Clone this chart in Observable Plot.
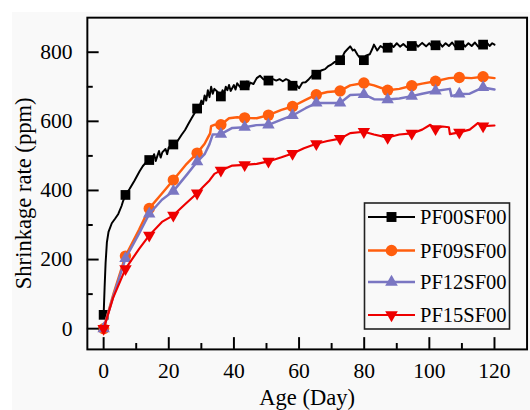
<!DOCTYPE html>
<html><head><meta charset="utf-8">
<script src="https://cdn.jsdelivr.net/npm/d3@7"></script>
<script src="https://cdn.jsdelivr.net/npm/@observablehq/plot@0.6"></script>
<style>
html,body{margin:0;padding:0;background:#ffffff;overflow:hidden;}
#wrap{position:relative;width:530px;height:410px;overflow:hidden;}
#bg{position:absolute;left:12px;top:12px;width:518px;height:398px;background:#f9f9f9;}
#chart{position:absolute;left:0;top:0;}
#legend{position:absolute;left:0;top:0;pointer-events:none;}
</style></head><body><div id="wrap"><div id="bg"></div><div id="chart"></div><svg id="legend" width="530" height="410"></svg></div>
<script>
// ---- data ----
const seriesNames = ["PF00SF00", "PF09SF00", "PF12SF00", "PF15SF00"];
const markerDays = [0, 6.7, 14, 21.4, 28.7, 36, 43.3, 50.6, 58, 65.3, 72.6, 79.9, 87.2, 94.6, 101.9, 109.2, 116.5];
const pf00Markers = [40, 387, 488, 533, 637, 672, 704, 718, 703, 735, 777, 777, 813, 818, 820, 820, 822];
const pf09Markers = [0, 210, 348, 430, 508, 590, 610, 618, 643, 677, 688, 711, 690, 703, 716, 727, 729];
const pf12Markers = [0, 203, 332, 398, 483, 563, 583, 590, 617, 653, 653, 678, 663, 673, 688, 679, 698];
const pf15Markers = [0, 173, 270, 328, 392, 458, 474, 484, 507, 535, 550, 570, 553, 565, 578, 568, 586];

const pf00Line = [[0.3,120],[0.6,190],[1,250],[1.5,280],[2.5,305],[3.5,318],[4.5,332],[5.5,355],[6,370],
  [8,405],[9.5,429],[11,455],[12,470],[13,481],[13.5,495],
  [15,492],[15.5,505],[16,485],[16.5,500],[17,514],[17.5,495],[18,510],[19,520],[19.5,505],[20,525],
  [22.5,540],[24,562],[25,575],[26,592],[27,609],[28,625],
  [29.5,645],[30,660],[30.5,650],[31,675],[31.5,660],[32,690],[32.5,670],[33,700],[33.5,680],[34,694],[35,685],
  [36.5,690],[37,680],[37.5,700],[38,690],[38.5,705],[39,688],[40,705],[40.5,692],[41,710],[42,698],
  [44,715],[44.5,700],[45,712],[46,708],[47,725],[48,732],[49,722],
  [52,722],[53,718],[54,722],[55,716],[56,722],[57,718],
  [59,708],[60,696],[61,712],[62,713],[63,722],[64,732],
  [66,742],[67,748],[68,751],[69,760],[70,765],[71,772],
  [73.5,790],[74,800],[75,810],[75.7,817],[76.5,805],[77,808],[78,792],[79,780],
  [80.5,790],[81.7,794],[82.5,810],[83,822],[84,805],[85,818],[86,812],
  [88,825],[89,815],[90,826],[91,816],[92,824],[93,815],
  [95.5,828],[96.5,816],[97.8,827],[99,817],[100,826],[101,815],
  [103,828],[104,816],[105,826],[106,818],[107,828],[108,815],
  [110,829],[111,816],[112,826],[113,818],[114,828],[115,816],
  [117.5,830],[118.5,818],[119.3,826],[120,822]];
const pf09Line = [[3,100],[10.9,287],[17.9,391],[25.5,477],[31,535],[32,553],[32.7,565],[33,586],[34,590],
  [38.5,609],[41,612],[47,609],[54.6,633],[62,662],[68.7,685],[75.7,704],[83,704],[90.8,694],
  [97.8,709],[106,725],[112.9,725],[120,725]];
const pf12Line = [[3,95],[10.9,276],[17.9,373],[25.5,445],[31,505],[32.5,534],[33.5,562],[39.5,581],
  [47,589],[54.6,605],[62,638],[68.7,653],[75.7,676],[83,664],[90.8,666],[97.8,680],[106.3,694],
  [106.8,673],[112.4,680],[120,692]];
const pf15Line = [[2.9,89],[10.9,231],[17.9,309],[25,360],[30.5,410],[32.5,429],[34,448],[39.5,472],
  [47,477],[54.6,496],[61.5,522],[68.7,543],[75.7,566],[83,562],[90.8,562],[97.8,576],[100.3,590],
  [104,585],[106,583],[106.3,563],[112.4,576],[114.9,595],[120,588]];

const xTicks = [0, 20, 40, 60, 80, 100, 120];
const xMinorTicks = [10, 30, 50, 70, 90, 110];
const yTicks = [0, 200, 400, 600, 800];
const yMinorTicks = [100, 300, 500, 700];
const xLabel = "Age (Day)";
const yLabel = "Shrinkage rate (ppm)";

// ---- styles ----
const colors = ["#000000", "#ff5e0e", "#7a76c2", "#ee0000"];
const lineWidths = [2, 2.5, 2.5, 2.2];
const font = "'Liberation Serif', 'Times New Roman', serif";

const downTriangle = {
  draw(context, size) {
    const a = Math.sqrt(size * 4 / Math.sqrt(3));
    const h = a * Math.sqrt(3) / 2;
    context.moveTo(-a / 2, -h / 3);
    context.lineTo(a / 2, -h / 3);
    context.lineTo(0, 2 * h / 3);
    context.closePath();
  }
};
const symbols = ["square", "circle", "triangle", downTriangle];
const radii = [5.6, 5.8, 4.7, 4.7];

// ---- build tables ----
const lineSets = [pf00Line, pf09Line, pf12Line, pf15Line];
const markerSets = [pf00Markers, pf09Markers, pf12Markers, pf15Markers];
const markerTables = markerSets.map((vals, i) => markerDays.map((d, j) => ({series: seriesNames[i], day: d, value: vals[j]})));
const lineTables = lineSets.map((pts, i) => pts.map(([d, v]) => ({series: seriesNames[i], day: d, value: v}))
  .concat(markerTables[i]).sort((a, b) => a.day - b.day));

const W = 540, H = 410, mL = 88.5, mR = 3.5, mT = 17.5, mB = 54.5;
const frameW = W - mL - mR, frameH = H - mT - mB;

const marks = [];
lineTables.forEach((t, i) => {
  marks.push(Plot.line(t, {x: "day", y: "value", stroke: colors[i], strokeWidth: lineWidths[i], strokeLinejoin: "round"}));
  marks.push(Plot.dot(markerTables[i], {x: "day", y: "value", symbol: symbols[i], r: radii[i], fill: colors[i], stroke: "none"}));
});
marks.push(
  Plot.ruleX(xTicks, {x: d => d, stroke: "black", strokeWidth: 2, insetTop: frameH - 12}),
  Plot.ruleX(xMinorTicks, {x: d => d, stroke: "black", strokeWidth: 2, insetTop: frameH - 6}),
  Plot.ruleY(yTicks, {y: d => d, stroke: "black", strokeWidth: 2, insetRight: frameW - 12}),
  Plot.ruleY(yMinorTicks, {y: d => d, stroke: "black", strokeWidth: 2, insetRight: frameW - 6}),
  Plot.frame({stroke: "black", strokeWidth: 2}),
  Plot.text(xTicks, {x: d => d, text: d => String(d), frameAnchor: "bottom", textAnchor: "middle", lineAnchor: "top", dy: 14, fontSize: 22, fontFamily: font, fill: "black"}),
  Plot.text(yTicks, {y: d => d, text: d => String(d), frameAnchor: "left", textAnchor: "end", lineAnchor: "middle", dx: -15, fontSize: 22, fontFamily: font, fill: "black"}),
  Plot.text([xLabel], {text: d => d, frameAnchor: "bottom", textAnchor: "middle", lineAnchor: "top", dy: 40, fontSize: 23, fontFamily: font, fill: "black"}),
  Plot.text([yLabel], {text: d => d, frameAnchor: "left", textAnchor: "middle", lineAnchor: "middle", rotate: -90, dx: -65, dy: 10, fontSize: 23, fontFamily: font, fill: "black"})
);

const chart = Plot.plot({
  width: W, height: H,
  marginLeft: mL, marginRight: mR, marginTop: mT, marginBottom: mB,
  x: {domain: [-5, 130], axis: null},
  y: {domain: [-60, 900], axis: null},
  style: {background: "transparent", fontFamily: font, color: "black", overflow: "visible"},
  marks
});
document.getElementById("chart").appendChild(chart);

// ---- legend (inside the plot area) ----
const lg = d3.select("#legend");
const box = {x: 364.5, y: 203, w: 145, h: 126};
const rowY = [217, 250.5, 282, 315];
lg.append("rect").attr("x", box.x).attr("y", box.y).attr("width", box.w).attr("height", box.h)
  .attr("fill", "none").attr("stroke", "#222").attr("stroke-width", 1.6);
seriesNames.forEach((name, i) => {
  const g = lg.append("g").attr("transform", `translate(0,${rowY[i]})`);
  g.append("line").attr("x1", 368).attr("x2", 415).attr("y1", 0).attr("y2", 0)
    .attr("stroke", colors[i]).attr("stroke-width", lineWidths[i]);
  const symType = {square: d3.symbolSquare, circle: d3.symbolCircle, triangle: d3.symbolTriangle}[symbols[i]] || symbols[i];
  g.append("path").attr("transform", "translate(391.5,0)")
    .attr("d", d3.symbol().type(symType).size(Math.PI * radii[i] * radii[i])())
    .attr("fill", colors[i]);
  g.append("text").attr("x", 420).attr("y", 0).attr("dy", "0.35em")
    .attr("font-family", font).attr("font-size", 20.5).attr("fill", "black").text(name);
});
</script></body></html>
